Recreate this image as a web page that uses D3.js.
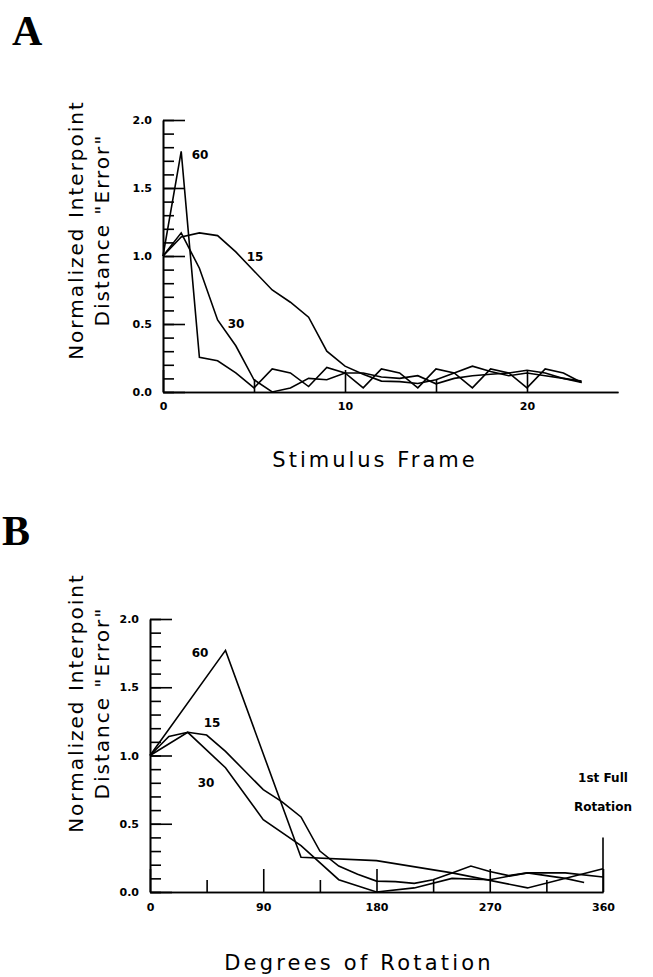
<!DOCTYPE html>
<html>
<head>
<meta charset="utf-8">
<script src="https://cdn.jsdelivr.net/npm/d3@7"></script>
<style>
  body { margin: 0; background: #fff; }
  .tick text { font-family: "DejaVu Sans", sans-serif; font-weight: bold; font-size: 11px; }
</style>
</head>
<body>
<script>
// Normalized interpoint distance error, two panels (A: by frame, B: by degrees)

var width = 653, height = 977;

// data, one value per stimulus frame (0..23)
var frames = d3.range(24);
var err15 = [1.0, 1.14, 1.17, 1.15, 1.03, 0.89, 0.75, 0.66, 0.55, 0.30, 0.19, 0.13, 0.08, 0.076, 0.063, 0.09, 0.14, 0.19, 0.15, 0.12, 0.14, 0.12, 0.10, 0.07];
var err30 = [1.0, 1.17, 0.91, 0.53, 0.34, 0.09, 0.0, 0.03, 0.10, 0.09, 0.14, 0.14, 0.11, 0.10, 0.12, 0.06, 0.10, 0.12, 0.13, 0.14, 0.16, 0.14, 0.10, 0.08];
var err60 = [1.0, 1.77, 0.255, 0.23, 0.14, 0.03, 0.17, 0.14, 0.04, 0.18, 0.14, 0.03, 0.17, 0.14, 0.03, 0.17, 0.14, 0.03, 0.17, 0.14, 0.03, 0.17, 0.14, 0.07];
var stepSizes = [15, 30, 60];

var yTickLabels = [0, 0.5, 1.0, 1.5, 2.0];
var frameTickLabels = [0, 10, 20];
var degTickLabels = [0, 90, 180, 270, 360];

var svg = d3.select("body").append("svg")
    .attr("width", width)
    .attr("height", height);

var line = d3.line();

function ticksY(g, y, x0) {
  // minor ticks every 0.1, long ones every 0.5, all pointing inward
  g.append("g")
      .attr("transform", "translate(" + x0 + ",0)")
      .call(d3.axisLeft(y).tickValues(d3.range(0, 2.01, 0.1)).tickSizeInner(-11).tickSizeOuter(0).tickFormat(""));
  g.append("g")
      .attr("transform", "translate(" + x0 + ",0)")
      .call(d3.axisLeft(y).tickValues(yTickLabels).tickSizeInner(-22).tickSizeOuter(0).tickPadding(11)
        .tickFormat(d3.format(".1f")));
}

function style(g) {
  g.selectAll("path, line").attr("stroke", "#000").attr("stroke-width", 1.6);
}

// ---------- panel A ----------
var xA = d3.scaleLinear().domain([0, 25]).range([163, 618]),
    yA = d3.scaleLinear().domain([0, 2]).range([392, 120]);

var gA = svg.append("g");
ticksY(gA, yA, 163);
gA.append("g")
    .attr("transform", "translate(0,392)")
    .call(d3.axisBottom(xA).tickValues([5, 15]).tickSizeInner(-13).tickSizeOuter(0).tickFormat(""));
gA.append("g")
    .attr("transform", "translate(0,392)")
    .call(d3.axisBottom(xA).tickValues(frameTickLabels).tickSizeInner(-22).tickSizeOuter(0).tickPadding(10));
style(gA);

[err15, err30, err60].forEach(function(s) {
  gA.append("path")
      .attr("fill", "none").attr("stroke", "#000").attr("stroke-width", 1.6)
      .attr("d", line(frames.map(function(f) { return [xA(f), yA(s[f])]; })));
});

// ---------- panel B ----------
var xB = d3.scaleLinear().domain([0, 360]).range([150, 603]),
    yB = d3.scaleLinear().domain([0, 2]).range([892, 619]);

var gB = svg.append("g");
ticksY(gB, yB, 150);
gB.append("g")
    .attr("transform", "translate(0,892)")
    .call(d3.axisBottom(xB).tickValues([45, 135, 225, 315]).tickSizeInner(-12).tickSizeOuter(0).tickFormat(""));
gB.append("g")
    .attr("transform", "translate(0,892)")
    .call(d3.axisBottom(xB).tickValues(degTickLabels).tickSizeInner(-23).tickSizeOuter(0).tickPadding(11));
// 1st full rotation marker
gB.append("line")
    .attr("x1", xB(360)).attr("x2", xB(360))
    .attr("y1", yB(0)).attr("y2", yB(0.4));
style(gB);

[err15, err30, err60].forEach(function(s, i) {
  var pts = frames
      .filter(function(f) { return f * stepSizes[i] <= 360; })
      .map(function(f) { return [xB(f * stepSizes[i]), yB(s[f])]; });
  gB.append("path")
      .attr("fill", "none").attr("stroke", "#000").attr("stroke-width", 1.6)
      .attr("d", line(pts));
});

// ---------- text ----------
function label(x, y, t, size, weight) {
  return svg.append("text")
      .attr("x", x).attr("y", y)
      .attr("text-anchor", "middle")
      .style("font-family", "'DejaVu Sans', sans-serif")
      .style("font-size", size + "px")
      .style("font-weight", weight || "normal")
      .text(t);
}

// series labels
label(200, 159, "60", 12, "bold");
label(255, 261, "15", 12, "bold");
label(236, 328, "30", 12, "bold");
label(200, 657, "60", 12, "bold");
label(212, 727, "15", 12, "bold");
label(206, 787, "30", 12, "bold");

label(603, 782, "1st Full", 12, "bold");
label(603, 811, "Rotation", 12, "bold");

// axis titles
label(375, 467, "Stimulus Frame", 21).style("letter-spacing", "3px");
label(359, 970, "Degrees of Rotation", 21).style("letter-spacing", "3.2px");

[230, 703].forEach(function(cy) {
  label(0, 0, "Normalized Interpoint", 20).style("letter-spacing", "2px")
      .attr("transform", "translate(83," + cy + ") rotate(-90)");
  label(0, 0, "Distance \"Error\"", 20).style("letter-spacing", "2px")
      .attr("transform", "translate(109," + cy + ") rotate(-90)");
});

// panel letters
svg.append("text").attr("x", 12).attr("y", 45)
    .style("font-family", "'Liberation Serif', serif").style("font-weight", "bold").style("font-size", "42px")
    .text("A");
svg.append("text").attr("x", 2).attr("y", 545)
    .style("font-family", "'Liberation Serif', serif").style("font-weight", "bold").style("font-size", "42px")
    .text("B");
</script>
</body>
</html>
